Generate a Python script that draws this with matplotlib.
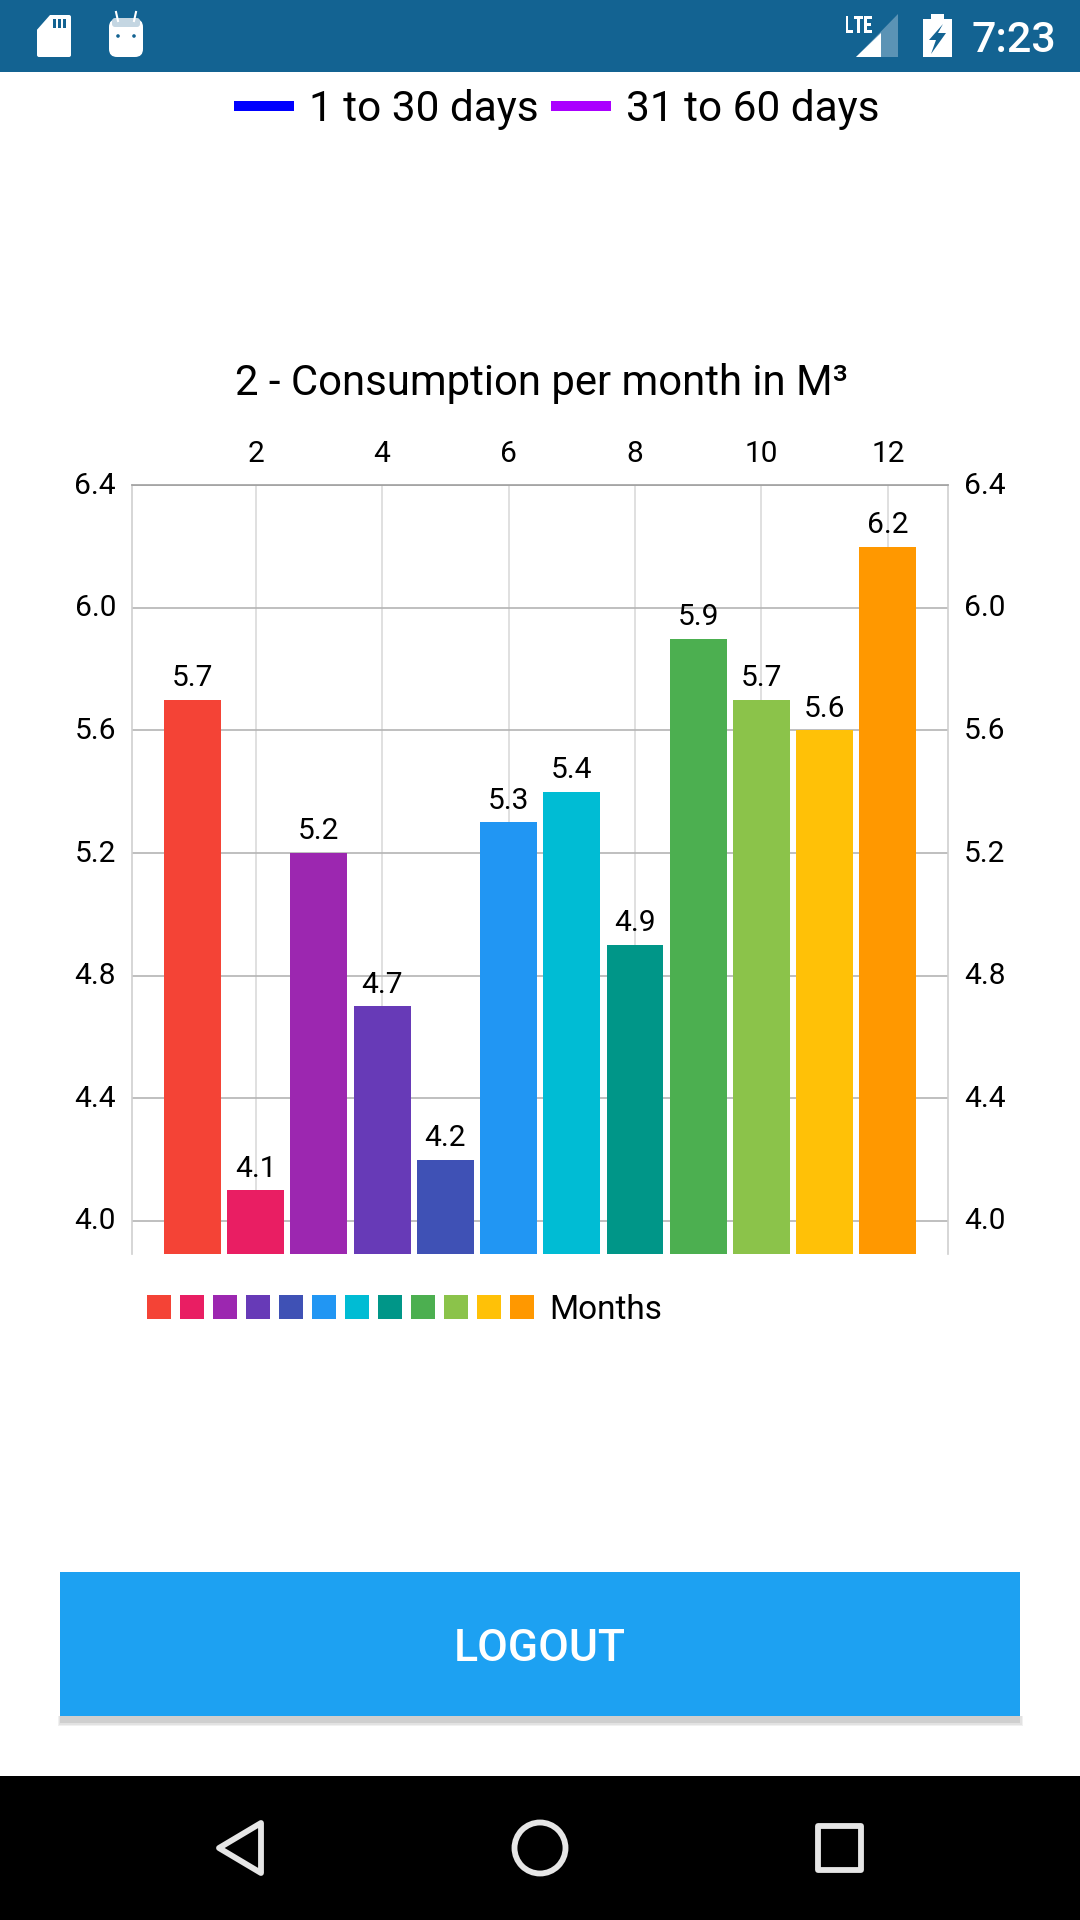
"""Android screen with the monthly consumption bar chart."""

import matplotlib
matplotlib.use("Agg")
import matplotlib.pyplot as plt
from matplotlib.font_manager import FontProperties
from matplotlib.patches import Circle, FancyBboxPatch, PathPatch, Polygon, Rectangle
from matplotlib.textpath import TextPath
from matplotlib.transforms import Affine2D, ScaledTranslation

plt.rcParams["font.family"] = ["Roboto", "DejaVu Sans"]

months = [1, 2, 3, 4, 5, 6, 7, 8, 9, 10, 11, 12]
consumption = [5.7, 4.1, 5.2, 4.7, 4.2, 5.3, 5.4, 4.9, 5.9, 5.7, 5.6, 6.2]
bar_colors = ["#F44336", "#E91E63", "#9C27B0", "#673AB7", "#3F51B5", "#2196F3",
              "#00BCD4", "#009688", "#4CAF50", "#8BC34A", "#FFC107", "#FF9800"]
y_ticks = [4.0, 4.4, 4.8, 5.2, 5.6, 6.0, 6.4]
x_ticks = [2, 4, 6, 8, 10, 12]
top_legend = [("1 to 30 days", "#0000FF"), ("31 to 60 days", "#AA00FF")]

W, H = 1080, 1920
STATUS = "#136392"
LABEL_SIZE = 21.5

fig = plt.figure(figsize=(W / 100, H / 100), dpi=100, facecolor="white")

# chart, placed by pixel box
left, right, top, bottom = 132, 948, 485.3, 1254
ax = fig.add_axes([left / W, 1 - bottom / H, (right - left) / W, (bottom - top) / H])
ax.bar(months, consumption, width=0.9, color=bar_colors, zorder=3)
ax.set_xlim(0.045, 12.95)
ax.set_ylim(3.892, 6.4)
ax.set_yticks(y_ticks)
ax.set_yticklabels([f"{v:.1f}" for v in y_ticks])
ax.set_xticks(x_ticks)
ax.xaxis.tick_top()
ax.yaxis.set_ticks_position("both")
ax.tick_params(axis="y", length=0, labelsize=LABEL_SIZE, labelright=True, pad=11.5)
ax.tick_params(axis="x", length=0, labelsize=LABEL_SIZE, pad=12.5)
ax.grid(axis="y", color="#B4B4B4", linewidth=1.2, zorder=1)
ax.grid(axis="x", color="#DADADA", linewidth=1.2, zorder=1)
ax.set_axisbelow(True)
for name in ("left", "right"):
    ax.spines[name].set_color("#CFCFCF")
    ax.spines[name].set_linewidth(1.2)
ax.spines["bottom"].set_visible(False)
ax.spines["top"].set_color("#A0A0A0")
ax.spines["top"].set_linewidth(1.2)

# y labels sit a little above their grid lines
nudge = ScaledTranslation(0, 2.5 / 100, fig.dpi_scale_trans)
for tick in ax.yaxis.get_major_ticks():
    tick.label1.set_transform(tick.label1.get_transform() + nudge)
    tick.label2.set_transform(tick.label2.get_transform() + nudge)

for month, value in zip(months, consumption):
    ax.annotate(f"{value:.1f}", (month, value), xytext=(0, 5.5), textcoords="offset points",
                ha="center", va="bottom", fontsize=LABEL_SIZE, color="black", zorder=4)

# everything around the chart, drawn in screen pixels
ui = fig.add_axes([0, 0, 1, 1], zorder=5)
ui.set_xlim(0, W)
ui.set_ylim(H, 0)
ui.axis("off")
ui.patch.set_alpha(0)

ui.text(541, 384, "2 - Consumption per month in M³", ha="center", va="center", fontsize=30.2)

# top legend
for (label, color), x0 in zip(top_legend, (234, 551)):
    ui.add_patch(Rectangle((x0, 101), 60, 10, color=color, lw=0))
    ui.text(x0 + 75, 110, label, ha="left", va="center", fontsize=30.5)

# months legend
for i, color in enumerate(bar_colors):
    ui.add_patch(Rectangle((147 + i * 33, 1295), 24, 24, color=color, lw=0))
ui.text(549, 1310, "Months", ha="left", va="center", fontsize=24)

# status bar
ui.add_patch(Rectangle((0, 0), W, 72, color=STATUS, lw=0))
ui.add_patch(FancyBboxPatch((39, 17), 30, 38, boxstyle="round,pad=2", color="white", lw=0))
ui.add_patch(Polygon([(35, 15), (50, 15), (35, 32)], color=STATUS, lw=0))
for x0 in (53, 58, 63):
    ui.add_patch(Rectangle((x0, 19), 3, 9, color=STATUS, lw=0))
ui.add_patch(FancyBboxPatch((117, 27), 18, 22, boxstyle="round,pad=8", color="white", lw=0))
ui.add_patch(FancyBboxPatch((115, 21), 22, 3, boxstyle="round,pad=3", color="#C4D6E2", lw=0))
ui.plot([116, 118], [12, 21], color="white", lw=1.5)
ui.plot([136, 134], [12, 21], color="white", lw=1.5)
ui.add_patch(Circle((118, 36), 1.8, color=STATUS, lw=0))
ui.add_patch(Circle((134, 36), 1.8, color=STATUS, lw=0))

# narrow LTE glyphs, squeezed from a normal font
lte = TextPath((0, 0), "LTE", size=24, prop=FontProperties(family="Roboto", weight="bold"))
box = lte.get_extents()
squeeze = Affine2D().translate(-box.x0, -box.y0).scale(26 / box.width, -17 / box.height)
ui.add_patch(PathPatch(lte, transform=squeeze + Affine2D().translate(846, 33) + ui.transData,
                       color="white", lw=0))

ui.add_patch(Polygon([(898, 14), (898, 57), (856, 57)], color="#5B93B5", lw=0))
ui.add_patch(Polygon([(881, 33), (881, 57), (856, 57)], color="white", lw=0))
ui.add_patch(Rectangle((923, 19), 29, 38, color="white", lw=0))
ui.add_patch(Rectangle((931, 14), 13, 6, color="white", lw=0))
ui.add_patch(Polygon([(943, 24), (929, 40), (936, 40), (931, 54), (946, 33), (938, 33)],
                     color=STATUS, lw=0))
ui.text(1014, 40, "7:23", ha="center", va="center", fontsize=31, color="white", weight="medium")

# button with a soft shadow
for spread, shade in ((5, "#F0F0F0"), (3, "#E2E2E2"), (0, "#CFCFCF")):
    ui.add_patch(Rectangle((60 - spread / 2, 1716), 960 + spread, 7 + spread / 2, color=shade, lw=0))
ui.add_patch(Rectangle((60, 1572), 960, 144, color="#1DA1F2", lw=0))
ui.text(540, 1649, "LOGOUT", ha="center", va="center", fontsize=32, color="white", weight="medium")

# nav bar
ui.add_patch(Rectangle((0, 1776), W, 144, color="black", lw=0))
ui.add_patch(Polygon([(261, 1823), (261, 1873), (219, 1848)], fill=False, ec="#E6E6E6",
                     lw=4.2, joinstyle="round"))
ui.add_patch(Circle((540, 1848), 25.5, fill=False, ec="#E6E6E6", lw=4.2))
ui.add_patch(Rectangle((818, 1826), 43, 44, fill=False, ec="#E6E6E6", lw=4.2, joinstyle="round"))

fig.savefig("out.png", dpi=100)
plt.close(fig)
